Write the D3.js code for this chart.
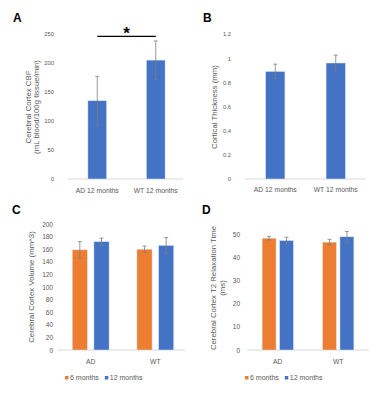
<!DOCTYPE html>
<html>
<head>
<meta charset="utf-8">
<script src="https://cdn.jsdelivr.net/npm/d3@7"></script>
<style>
  body { margin: 0; background: #fff; }
  svg { font-family: "Liberation Sans", Arial, sans-serif; }
</style>
</head>
<body>
<div id="chart"></div>
<script>
// ---- data ----
let groupsAB = ['AD 12 months', 'WT 12 months'];
let cbfMean = [135, 205];
let cbfErr = [42, 33];
let cbfTicks = [0, 50, 100, 150, 200, 250];

let thickMean = [0.89, 0.96];
let thickErr = [0.06, 0.065];
let thickTicks = [0, 0.2, 0.4, 0.6, 0.8, 1, 1.2];

let groupsCD = ['AD', 'WT'];
let ages = ['6 months', '12 months'];
let volMean = [[159, 172], [160, 166]];
let volErr = [[13, 5.5], [5, 12.5]];
let volTicks = [0, 20, 40, 60, 80, 100, 120, 140, 160, 180, 200];

let t2Mean = [[48.2, 47.2], [46.5, 48.8]];
let t2Err = [[0.8, 1.4], [1.2, 2.3]];
let t2Ticks = [0, 10, 20, 30, 40, 50];

let blue = '#4472c4';
let orange = '#ed7d31';
let ageColors = [orange, blue];
let textGray = '#595959';

let width = 369, height = 400;

let svg = d3.select('#chart')
		.append('svg')
		.attr('width', width)
		.attr('height', height);

/**
 * Draws one panel: axis labels, baseline, bars and error bars.
 */
function drawPanel(opts) {
	let g = svg.append('g');

	let y = d3.scaleLinear()
			.domain(opts.domain)
			.range([opts.bottom, opts.top]);

	let x0 = d3.scaleBand()
			.domain(opts.groups)
			.range([opts.left, opts.right])
			.paddingInner(opts.padIn)
			.paddingOuter(opts.padOut);

	// tick labels (no tick marks, Excel style)
	let axis = d3.axisLeft(y)
			.tickValues(opts.ticks)
			.tickSize(0)
			.tickPadding(0)
			.tickFormat(opts.fmt);
	let ag = g.append('g')
			.attr('transform', `translate(${opts.labelX}, 0)`)
			.call(axis);
	ag.select('.domain').remove();
	ag.selectAll('text')
			.attr('fill', textGray)
			.style('font-size', opts.tickSize + 'px');

	// baseline
	g.append('line')
			.attr('x1', opts.baseX1)
			.attr('x2', opts.baseX2)
			.attr('y1', y(0))
			.attr('y2', y(0))
			.attr('stroke', '#d9d9d9')
			.attr('stroke-width', 1);

	// bars
	let bars = [];
	opts.groups.forEach((grp, i) => {
		if(opts.series) {
			let x1 = d3.scaleBand().domain(d3.range(opts.series.length)).range([0, x0.bandwidth()]).paddingInner(opts.gap);
			opts.series.forEach((s, j) => {
				bars.push({x: x0(grp) + x1(j), w: x1.bandwidth(), v: opts.mean[i][j], e: opts.err[i][j], c: opts.colors[j]});
			});
		} else {
			bars.push({x: x0(grp), w: x0.bandwidth(), v: opts.mean[i], e: opts.err[i], c: blue});
		}
	});

	g.selectAll('rect.bar')
			.data(bars)
			.enter()
			.append('rect')
			.attr('class', 'bar')
			.attr('x', d => d.x)
			.attr('width', d => d.w)
			.attr('y', d => y(d.v))
			.attr('height', d => y(0) - y(d.v))
			.attr('fill', d => d.c)
			.attr('stroke', '#dfe8f6')
			.attr('stroke-width', 0.5);

	// error bars
	let eg = g.selectAll('g.err')
			.data(bars)
			.enter()
			.append('g')
			.attr('class', 'err')
			.attr('stroke', '#7f7f7f')
			.attr('stroke-width', 0.8);
	eg.append('line')
			.attr('x1', d => d.x + d.w / 2)
			.attr('x2', d => d.x + d.w / 2)
			.attr('y1', d => y(d.v + d.e))
			.attr('y2', d => y(d.v - d.e));
	eg.append('line')
			.attr('x1', d => d.x + d.w / 2 - 2)
			.attr('x2', d => d.x + d.w / 2 + 2)
			.attr('y1', d => y(d.v + d.e))
			.attr('y2', d => y(d.v + d.e));
	eg.append('line')
			.attr('x1', d => d.x + d.w / 2 - 2)
			.attr('x2', d => d.x + d.w / 2 + 2)
			.attr('y1', d => y(d.v - d.e))
			.attr('y2', d => y(d.v - d.e));

	// category labels
	g.selectAll('text.cat')
			.data(opts.groups)
			.enter()
			.append('text')
			.attr('class', 'cat')
			.attr('x', d => x0(d) + x0.bandwidth() / 2)
			.attr('y', opts.catY)
			.attr('text-anchor', 'middle')
			.attr('fill', textGray)
			.style('font-size', '6.8px')
			.text(d => d);

	// y title, possibly two lines
	let tt = g.append('text')
			.attr('transform', `translate(${opts.titleX}, ${opts.titleY}) rotate(-90)`)
			.attr('text-anchor', 'middle')
			.attr('fill', textGray)
			.style('font-size', '7.8px');
	opts.title.forEach((line, k) => {
		tt.append('tspan')
				.attr('x', 0)
				.attr('dy', k === 0 ? 0 : opts.titleGap)
				.text(line);
	});

	// panel letter
	g.append('text')
			.attr('x', opts.letterX)
			.attr('y', opts.letterY)
			.attr('font-weight', 'bold')
			.style('font-size', '12px')
			.attr('fill', '#000')
			.text(opts.letter);

	// legend
	if(opts.series) {
		let lg = g.append('g');
		let lx = opts.legendX;
		opts.series.forEach((s, j) => {
			lg.append('rect')
					.attr('x', lx)
					.attr('y', opts.legendY - 4)
					.attr('width', 3.5)
					.attr('height', 3.5)
					.attr('fill', opts.colors[j]);
			let t = lg.append('text')
					.attr('x', lx + 5)
					.attr('y', opts.legendY)
					.attr('fill', textGray)
					.style('font-size', '7px')
					.text(s);
			lx += 5 + t.node().getComputedTextLength() + 6;
		});
	}

	return {g: g, x0: x0, y: y};
}

// Panel A
let pa = drawPanel({
	letter: 'A', letterX: 13, letterY: 22,
	groups: groupsAB, mean: cbfMean, err: cbfErr,
	domain: [0, 250], ticks: cbfTicks, fmt: d3.format('d'), tickSize: 5.8,
	top: 34, bottom: 179, left: 68, right: 185, padIn: 0.68, padOut: 0.34,
	labelX: 54, baseX1: 68, baseX2: 183, catY: 193,
	title: ['Cerebral Cortex CBF', '(mL blood/100g tissue/min)'], titleGap: 8, titleX: 31, titleY: 107
});

// significance marker between the two groups
let sigX1 = pa.x0(groupsAB[0]) + pa.x0.bandwidth() / 2;
let sigX2 = pa.x0(groupsAB[1]) + pa.x0.bandwidth() / 2;
pa.g.append('line')
		.attr('x1', sigX1).attr('x2', sigX2)
		.attr('y1', 36.3).attr('y2', 36.3)
		.attr('stroke', '#000')
		.attr('stroke-width', 1.2);
pa.g.append('text')
		.attr('x', (sigX1 + sigX2) / 2)
		.attr('y', 39)
		.attr('text-anchor', 'middle')
		.attr('font-weight', 'bold')
		.style('font-size', '17px')
		.text('*');

// Panel B
drawPanel({
	letter: 'B', letterX: 203, letterY: 22,
	groups: groupsAB, mean: thickMean, err: thickErr,
	domain: [0, 1.2], ticks: thickTicks, fmt: d => d, tickSize: 5.8,
	top: 34, bottom: 179, left: 245, right: 366, padIn: 0.68, padOut: 0.34,
	labelX: 231, baseX1: 245, baseX2: 366, catY: 192,
	title: ['Cortical Thickness (mm)'], titleGap: 8, titleX: 217, titleY: 107
});

// Panel C
drawPanel({
	letter: 'C', letterX: 12, letterY: 214,
	groups: groupsCD, series: ages, colors: ageColors, gap: 0.3,
	mean: volMean, err: volErr,
	domain: [0, 200], ticks: volTicks, fmt: d3.format('d'), tickSize: 6.5,
	top: 224, bottom: 350, left: 58, right: 188, padIn: 0.43, padOut: 0.22,
	labelX: 53, baseX1: 58, baseX2: 185, catY: 364,
	title: ['Cerebral Cortex Volume (mm^3)'], titleGap: 8, titleX: 34, titleY: 287,
	legendX: 65, legendY: 380
});

// Panel D
drawPanel({
	letter: 'D', letterX: 202, letterY: 214,
	groups: groupsCD, series: ages, colors: ageColors, gap: 0.2,
	mean: t2Mean, err: t2Err,
	domain: [0, 50], ticks: t2Ticks, fmt: d3.format('d'), tickSize: 6.5,
	top: 234, bottom: 350, left: 247, right: 369, padIn: 0.48, padOut: 0.25,
	labelX: 240, baseX1: 247, baseX2: 369, catY: 364,
	title: ['Cerebral Cortex T2 Relaxation Time', '(ms)'], titleGap: 9, titleX: 216, titleY: 288,
	legendX: 245, legendY: 380
});
</script>
</body>
</html>
